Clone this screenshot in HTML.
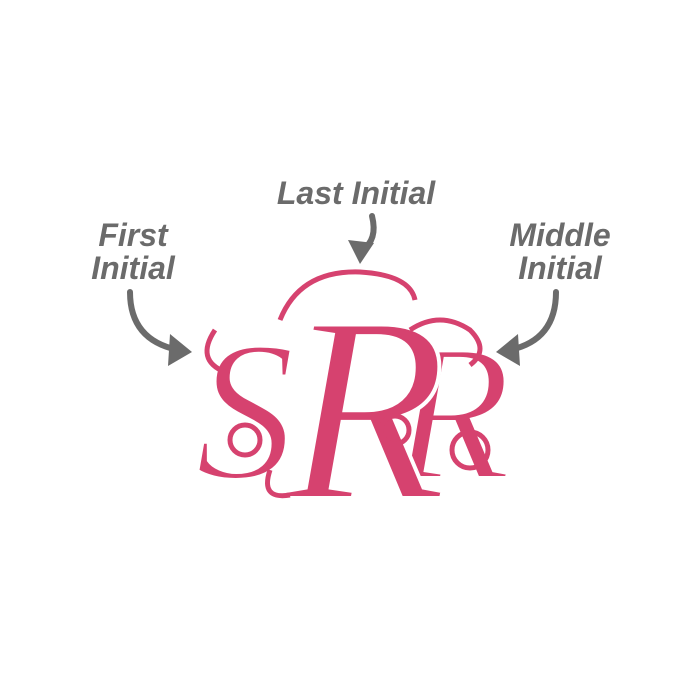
<!DOCTYPE html>
<html><head><meta charset="utf-8"><style>
html,body{margin:0;padding:0;background:#fff;width:700px;height:700px;overflow:hidden}
</style></head><body>
<svg width="700" height="700" viewBox="0 0 700 700" xmlns="http://www.w3.org/2000/svg">
<g font-family="Liberation Sans, sans-serif" font-style="italic" font-weight="bold" fill="#6b6b6b" font-size="32">
<text x="356" y="204" text-anchor="middle">Last Initial</text>
<text x="133" y="246" text-anchor="middle">First</text>
<text x="133" y="279" text-anchor="middle">Initial</text>
<text x="560" y="246" text-anchor="middle">Middle</text>
<text x="560" y="279" text-anchor="middle">Initial</text>
</g>
<g fill="none" stroke="#6b6b6b" stroke-width="6" stroke-linecap="round">
<path d="M372 216 Q378 240 362 250"/>
<path d="M130 292 Q130 340 178 350"/>
<path d="M556 292 Q556 340 510 350"/>
</g>
<g fill="#6b6b6b">
<polygon points="348,240 374,243 360,264"/>
<polygon points="170,334 192,352 168,366"/>
<polygon points="518,334 496,352 520,366"/>
</g>
<g fill="#d6426f" font-family="Liberation Serif, serif" font-style="italic" stroke="#fff" stroke-width="4" paint-order="normal">
<text x="195" y="478" font-size="200">S</text>
<text x="392" y="478" font-size="195">R</text>
<text x="285" y="498" font-size="265">R</text>
</g>
<g fill="none" stroke="#d6426f" stroke-width="5">
<path d="M280 320 Q300 270 360 272 Q410 275 415 300"/>
<path d="M215 330 Q195 360 225 372"/>
<path d="M410 330 Q440 310 470 330 Q490 350 470 365"/>
<circle cx="245" cy="440" r="15"/>
<circle cx="470" cy="450" r="18"/>
<path d="M270 470 Q260 500 290 495"/>
<circle cx="395" cy="430" r="14"/>
</g>
</svg>
</body></html>
